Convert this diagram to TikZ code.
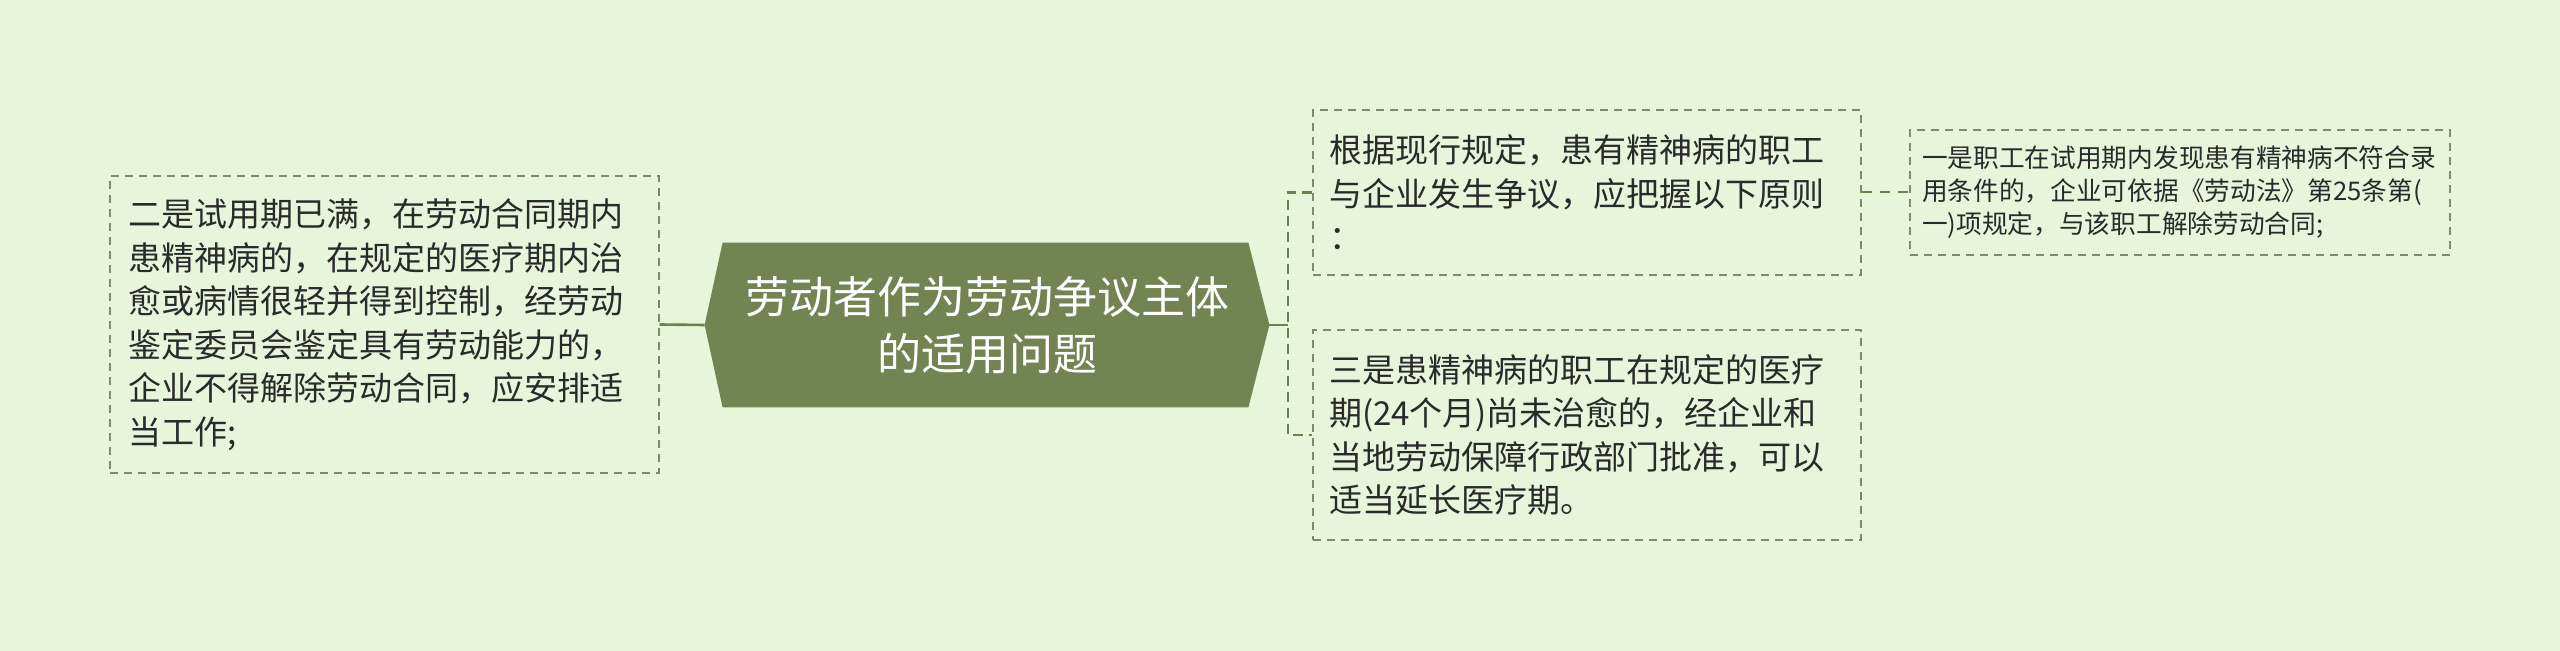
\documentclass[tikz,border=0pt]{standalone}
\usepackage{fontspec}
\newfontfamily\cjk{Noto Sans CJK SC}
\usetikzlibrary{backgrounds}
\definecolor{bgc}{HTML}{E8F5DA}
\definecolor{cen}{HTML}{738453}
\definecolor{edg}{HTML}{6F804F}
\definecolor{brd}{HTML}{7D8C66}
\definecolor{txt}{HTML}{2A2A2A}
\begin{document}
\begin{tikzpicture}[x=0.5pt,y=-0.5pt,
  box/.style={draw=brd, line width=0.7pt, dash pattern=on 4pt off 3pt, align=left, text=txt, inner ysep=0pt, anchor=center},
  bigtxt/.style={font={\cjk\fontsize{16.5}{21.75}\selectfont}},
  smalltxt/.style={font={\cjk\fontsize{12.85}{16.5}\selectfont}},
  centre/.style={text=white, align=center, inner sep=0pt, minimum width=282pt, minimum height=82pt, font={\cjk\fontsize{22}{28.5}\selectfont}},
  edge/.style={draw=edg, line width=1.3pt},
  edgedash/.style={draw=edg, line width=1.3pt, dash pattern=on 5pt off 3pt},
  edgethin/.style={draw=edg, line width=1pt, dash pattern=on 5pt off 4pt}]
\useasboundingbox (0,0) rectangle (2560,651);

\node[centre] (c) at (987,325) {劳动者作为劳动争议主体\\的适用问题};

\node[box, bigtxt, text width=256pt, inner xsep=9.25pt, minimum height=148.5pt] (L) at (384.5,324.5)
  {二是试用期已满，在劳动合同期内\\患精神病的，在规定的医疗期内治\\愈或病情很轻并得到控制，经劳动\\鉴定委员会鉴定具有劳动能力的，\\企业不得解除劳动合同，应安排适\\当工作;};

\node[box, bigtxt, text width=258pt, inner xsep=8pt, minimum height=82.5pt] (B1) at (1587,192.5)
  {根据现行规定，患有精神病的职工\\与企业发生争议，应把握以下原则\\：};

\node[box, bigtxt, text width=258pt, inner xsep=8pt, minimum height=105pt] (B2) at (1587,435)
  {三是患精神病的职工在规定的医疗\\期(24个月)尚未治愈的，经企业和\\当地劳动保障行政部门批准，可以\\适当延长医疗期。};

\node[box, smalltxt, text width=258pt, inner xsep=6pt, minimum height=62.5pt] (B3) at (2180,192.5)
  {一是职工在试用期内发现患有精神病不符合录\\用条件的，企业可依据《劳动法》第25条第(\\一)项规定，与该职工解除劳动合同;};

\coordinate (t) at (1288,325);

\draw[edge] (L.east) -- (c.west);
\draw[edge] (c.east) -- (t);
\draw[edgedash] (B1.west) -- (B1.west -| t) -- (B2.west -| t) -- (B2.west);
\draw[edgethin] (B1.east) -- (B3.west);

\begin{scope}[on background layer]
  \fill[bgc] (0,0) rectangle (2560,651);
  \fill[cen] (c.west) -- ([xshift=9pt]c.north west) -- ([xshift=-10.5pt]c.north east) -- (c.east)
    -- ([xshift=-10.5pt]c.south east) -- ([xshift=9pt]c.south west) -- cycle;
\end{scope}
\end{tikzpicture}
\end{document}
